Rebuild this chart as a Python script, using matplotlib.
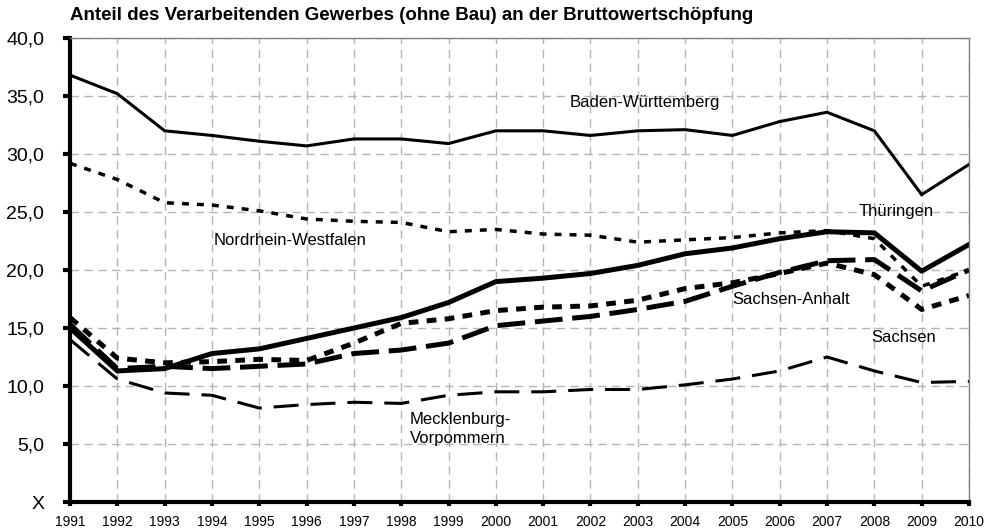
import matplotlib
matplotlib.use("Agg")
import matplotlib.pyplot as plt

plt.rcParams['font.family'] = ['Liberation Sans', 'DejaVu Sans']
plt.rcParams['lines.scale_dashes'] = False

years = list(range(1991, 2011))

# Anteil in Prozent
baden_wuerttemberg = [36.8, 35.2, 32.0, 31.6, 31.1, 30.7, 31.3, 31.3, 30.9, 32.0,
                      32.0, 31.6, 32.0, 32.1, 31.6, 32.8, 33.6, 32.0, 26.5, 29.1]
nordrhein_westfalen = [29.2, 27.8, 25.8, 25.6, 25.1, 24.4, 24.2, 24.1, 23.3, 23.5,
                       23.1, 23.0, 22.4, 22.6, 22.8, 23.2, 23.4, 22.7, 18.6, 20.0]
thueringen = [15.0, 11.3, 11.5, 12.8, 13.2, 14.1, 15.0, 15.9, 17.2, 19.0,
              19.3, 19.7, 20.4, 21.4, 21.9, 22.7, 23.3, 23.2, 19.9, 22.2]
sachsen = [15.9, 12.4, 12.0, 12.1, 12.3, 12.2, 13.7, 15.4, 15.8, 16.5,
           16.8, 16.9, 17.4, 18.4, 18.9, 19.7, 20.6, 19.6, 16.6, 17.8]
sachsen_anhalt = [15.3, 11.5, 11.7, 11.5, 11.7, 11.9, 12.8, 13.1, 13.7, 15.2,
                  15.6, 16.0, 16.6, 17.3, 18.6, 19.8, 20.8, 20.9, 18.2, 20.0]
meck_pomm = [14.0, 10.6, 9.4, 9.2, 8.1, 8.4, 8.6, 8.5, 9.2, 9.5,
             9.5, 9.7, 9.7, 10.1, 10.6, 11.3, 12.5, 11.3, 10.3, 10.4]

y_ticks = [0, 5, 10, 15, 20, 25, 30, 35, 40]
y_labels = ['X', '5,0', '10,0', '15,0', '20,0', '25,0', '30,0', '35,0', '40,0']

fig = plt.figure(figsize=(9.92, 5.31), dpi=100)
ax = fig.add_axes([0.0706, 0.0546, 0.9062, 0.8738])

ax.plot(years, baden_wuerttemberg, color='black', lw=2.2, solid_joinstyle='miter')
ax.plot(years, nordrhein_westfalen, color='black', lw=2.5, dashes=(5, 5.8))
ax.plot(years, thueringen, color='black', lw=3.6)
ax.plot(years, sachsen, color='black', lw=3.6, dashes=(7, 6))
ax.plot(years, sachsen_anhalt, color='black', lw=3.6, dashes=(20, 7))
ax.plot(years, meck_pomm, color='black', lw=2.2, dashes=(18, 8.6))

txt = dict(fontsize=12, color='black')
ax.text(2003.15, 34.4, 'Baden-Württemberg', ha='center', va='center', **txt)
ax.text(2008.47, 25.05, 'Thüringen', ha='center', va='center', **txt)
ax.text(1995.65, 22.55, 'Nordrhein-Westfalen', ha='center', va='center', **txt)
ax.text(2006.25, 17.45, 'Sachsen-Anhalt', ha='center', va='center', **txt)
ax.text(2008.62, 14.17, 'Sachsen', ha='center', va='center', **txt)
ax.text(1998.18, 6.3, 'Mecklenburg-\nVorpommern', ha='left', va='center',
        linespacing=1.3, **txt)

ax.set_xlim(1991, 2010)
ax.set_ylim(0, 40)
ax.set_xticks(years)
ax.set_xticklabels([str(y) for y in years], fontsize=10)
ax.set_yticks(y_ticks)
ax.set_yticklabels(y_labels, fontsize=14)

ax.grid(True, color='#b4b4b4', lw=1.0, dashes=(6, 4))
ax.set_axisbelow(True)

for side in ['left', 'bottom']:
    ax.spines[side].set_linewidth(3)
    ax.spines[side].set_color('black')
for side in ['top', 'right']:
    ax.spines[side].set_linewidth(1.0)
    ax.spines[side].set_color('#808080')

ax.tick_params(axis='y', length=5, width=3, pad=13.5)
ax.tick_params(axis='x', length=3, width=3, pad=6)

fig.text(0.0706, 0.97, 'Anteil des Verarbeitenden Gewerbes (ohne Bau) an der Bruttowertschöpfung',
         fontsize=13.5, fontweight='bold', ha='left', va='center')

fig.savefig('out.png', dpi=100)
